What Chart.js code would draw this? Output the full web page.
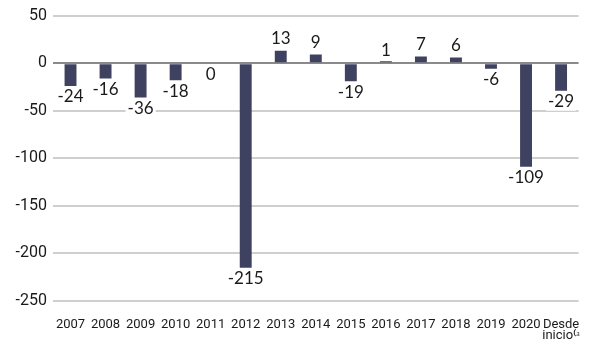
<!DOCTYPE html>
<html>
<head>
    <title>Rentabilidad</title>
    <script src="https://cdn.jsdelivr.net/npm/chart.js"></script>
    <style>
        body { margin: 0; background: #fff; }
    </style>
</head>
<body>
    <canvas id="chart" width="590" height="339"></canvas>

    <script>
        const categories = ['2007', '2008', '2009', '2010', '2011', '2012', '2013', '2014',
            '2015', '2016', '2017', '2018', '2019', '2020', ['Desde', 'inicio⁽ᵃ']];
        const values = [-24, -16, -36, -18, 0, -215, 13, 9, -19, 1, 7, 6, -6, -109, -29];
        const yTicks = [50, 0, -50, -100, -150, -200, -250];

        const barColor = '#3e4260';

        // value labels under negative bars, over positive ones, on a white box
        const valueLabels = {
            id: 'valueLabels',
            afterDatasetsDraw(chart) {
                const ctx = chart.ctx;
                const meta = chart.getDatasetMeta(0);
                const y = chart.scales.y;
                ctx.save();
                ctx.font = '17px Lato';
                ctx.textAlign = 'center';
                ctx.textBaseline = 'middle';
                meta.data.forEach((bar, i) => {
                    const v = values[i];
                    const txt = String(v);
                    const end = y.getPixelForValue(v);
                    const cy = v > 0 ? end - 12 : end + 11;
                    const w = ctx.measureText(txt).width;
                    ctx.fillStyle = '#fff';
                    ctx.fillRect(bar.x - w / 2 - 2, cy - 9, w + 4, 18);
                    ctx.fillStyle = '#1a1a1a';
                    ctx.fillText(txt, bar.x, cy);
                });
                ctx.restore();
            }
        };

        new Chart(document.getElementById('chart').getContext('2d'), {
            type: 'bar',
            data: {
                labels: categories,
                datasets: [{
                    data: values,
                    backgroundColor: c => c.raw === 0 ? 'rgba(0,0,0,0)' : barColor,
                    barPercentage: 0.34,
                    categoryPercentage: 1,
                    minBarLength: 2
                }]
            },
            options: {
                responsive: false,
                animation: false,
                layout: { padding: { top: 10, right: 4, left: 0, bottom: 0 } },
                plugins: {
                    legend: { display: false },
                    tooltip: { enabled: false }
                },
                scales: {
                    x: {
                        afterFit: s => { s.height = 38; },
                        grid: { display: false },
                        border: { display: false },
                        ticks: {
                            color: '#1a1a1a',
                            font: { family: 'Roboto', size: 13, lineHeight: 0.85 },
                            maxRotation: 0,
                            autoSkip: false,
                            padding: 10
                        }
                    },
                    y: {
                        min: -250,
                        max: 50,
                        afterFit: s => { s.width = 53; },
                        afterBuildTicks: s => { s.ticks = yTicks.map(v => ({ value: v })); },
                        border: { display: false },
                        grid: {
                            drawTicks: false,
                            lineWidth: 2,
                            color: c => c.tick.value === 0 ? '#8a8a8a' : '#cfcfcf'
                        },
                        ticks: {
                            color: '#1a1a1a',
                            font: { family: 'Roboto', size: 16 },
                            padding: 6
                        }
                    }
                }
            },
            plugins: [valueLabels]
        });
    </script>
</body>
</html>
